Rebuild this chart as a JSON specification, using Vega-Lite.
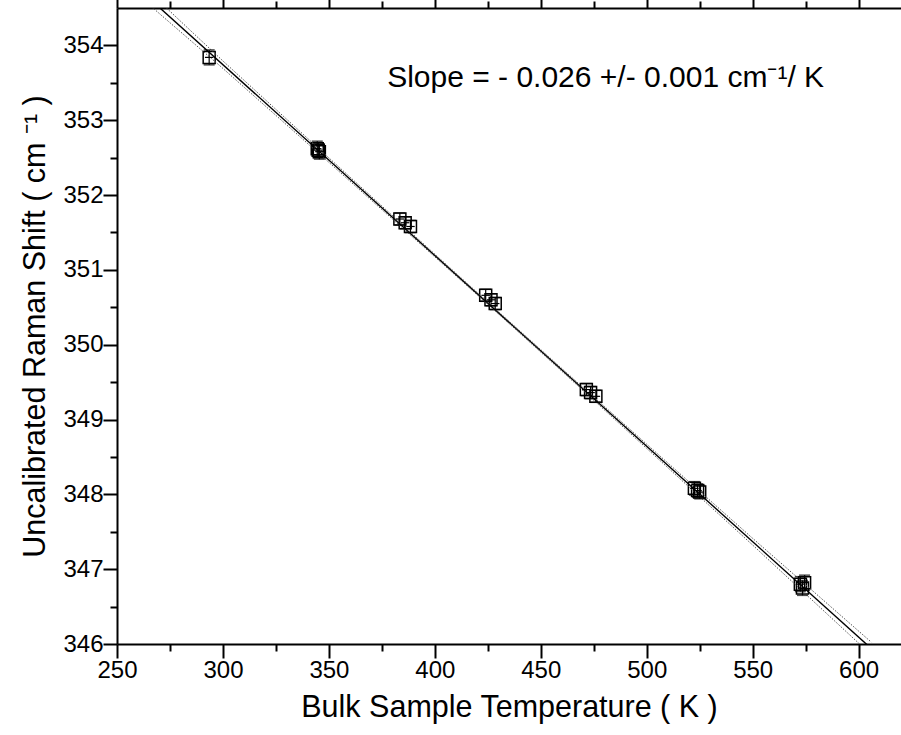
{
  "$schema": "https://vega.github.io/schema/vega-lite/v6.json",
  "autosize": {"type": "none"},
  "padding": {"left": 117, "top": 8, "right": 0, "bottom": 91},
  "width": 784,
  "height": 636,
  "background": "white",
  "config": {
    "view": {"stroke": null},
    "font": "Liberation Sans",
    "axis": {
      "domainColor": "black",
      "domainWidth": 2,
      "tickColor": "black",
      "tickWidth": 2,
      "grid": false,
      "labelColor": "black",
      "labelFont": "Liberation Sans",
      "labelFontSize": 24,
      "titleColor": "black",
      "titleFont": "Liberation Sans",
      "titleFontSize": 30.5,
      "titleFontWeight": "normal"
    }
  },
  "datasets": {
    "points": [
      {"T": 293.5, "S": 353.84, "Tlo": 291.5, "Thi": 295.5, "Slo": 353.74, "Shi": 353.94},
      {"T": 344.5, "S": 352.62, "Tlo": 342.5, "Thi": 346.5, "Slo": 352.52, "Shi": 352.72},
      {"T": 345.5, "S": 352.58, "Tlo": 343.5, "Thi": 347.5, "Slo": 352.48, "Shi": 352.68},
      {"T": 345.0, "S": 352.60, "Tlo": 343.0, "Thi": 347.0, "Slo": 352.50, "Shi": 352.70},
      {"T": 383.5, "S": 351.68, "Tlo": 381.5, "Thi": 385.5, "Slo": 351.60, "Shi": 351.76},
      {"T": 386.0, "S": 351.63, "Tlo": 384.0, "Thi": 388.0, "Slo": 351.55, "Shi": 351.71},
      {"T": 388.5, "S": 351.58, "Tlo": 386.5, "Thi": 390.5, "Slo": 351.50, "Shi": 351.66},
      {"T": 424.0, "S": 350.66, "Tlo": 422.0, "Thi": 426.0, "Slo": 350.58, "Shi": 350.74},
      {"T": 426.5, "S": 350.60, "Tlo": 424.5, "Thi": 428.5, "Slo": 350.52, "Shi": 350.68},
      {"T": 428.5, "S": 350.55, "Tlo": 426.5, "Thi": 430.5, "Slo": 350.47, "Shi": 350.63},
      {"T": 471.5, "S": 349.40, "Tlo": 469.5, "Thi": 473.5, "Slo": 349.32, "Shi": 349.48},
      {"T": 473.5, "S": 349.36, "Tlo": 471.5, "Thi": 475.5, "Slo": 349.28, "Shi": 349.44},
      {"T": 476.0, "S": 349.31, "Tlo": 474.0, "Thi": 478.0, "Slo": 349.23, "Shi": 349.39},
      {"T": 522.5, "S": 348.08, "Tlo": 520.5, "Thi": 524.5, "Slo": 347.99, "Shi": 348.17},
      {"T": 524.0, "S": 348.05, "Tlo": 522.0, "Thi": 526.0, "Slo": 347.96, "Shi": 348.14},
      {"T": 525.0, "S": 348.03, "Tlo": 523.0, "Thi": 527.0, "Slo": 347.94, "Shi": 348.12},
      {"T": 572.5, "S": 346.80, "Tlo": 570.5, "Thi": 574.5, "Slo": 346.70, "Shi": 346.90},
      {"T": 573.5, "S": 346.75, "Tlo": 571.5, "Thi": 575.5, "Slo": 346.65, "Shi": 346.85},
      {"T": 574.5, "S": 346.82, "Tlo": 572.5, "Thi": 576.5, "Slo": 346.72, "Shi": 346.92}
    ],
    "fit": [
      {"T": 262, "S": 354.711},
      {"T": 606, "S": 345.939}
    ],
    "band": [
      {"T": 262, "up": 354.801, "lo": 354.621},
      {"T": 300, "up": 353.792, "lo": 353.692},
      {"T": 350, "up": 352.497, "lo": 352.437},
      {"T": 400, "up": 351.210, "lo": 351.174},
      {"T": 430, "up": 350.442, "lo": 350.412},
      {"T": 460, "up": 349.680, "lo": 349.644},
      {"T": 500, "up": 348.670, "lo": 348.614},
      {"T": 550, "up": 347.412, "lo": 347.322},
      {"T": 606, "up": 346.024, "lo": 345.854}
    ],
    "note": [
      {"T": 377.5, "S": 353.56, "label": "Slope = - 0.026 +/- 0.001 cm⁻¹/ K"}
    ]
  },
  "resolve": {"axis": {"x": "independent", "y": "independent"}},
  "layer": [
    {
      "data": {"name": "points"},
      "mark": {"type": "point", "shape": "square", "filled": false, "stroke": "black", "strokeWidth": 1.5, "size": 144, "opacity": 1, "clip": true},
      "encoding": {
        "x": {
          "field": "T", "type": "quantitative",
          "scale": {"domain": [250, 620], "nice": false, "zero": false},
          "axis": {
            "orient": "bottom",
            "title": "Bulk Sample Temperature ( K )",
            "values": [250, 275, 300, 325, 350, 375, 400, 425, 450, 475, 500, 525, 550, 575, 600],
            "tickSize": {"condition": {"test": "datum.value % 50 === 0", "value": 14}, "value": 7},
            "labelExpr": "datum.value % 50 === 0 ? format(datum.value, 'd') : ''",
            "labelPadding": 0,
            "labelFlush": false,
            "labelOverlap": false,
            "titlePadding": 10
          }
        },
        "y": {
          "field": "S", "type": "quantitative",
          "scale": {"domain": [346, 354.5], "nice": false, "zero": false},
          "axis": {
            "orient": "left",
            "title": "Uncalibrated Raman Shift ( cm ⁻¹ )",
            "values": [346, 346.5, 347, 347.5, 348, 348.5, 349, 349.5, 350, 350.5, 351, 351.5, 352, 352.5, 353, 353.5, 354],
            "tickSize": {"condition": {"test": "datum.value % 1 === 0", "value": 14}, "value": 7},
            "labelExpr": "datum.value % 1 === 0 ? format(datum.value, 'd') : ''",
            "labelPadding": 0,
            "labelFlush": false,
            "labelOverlap": false,
            "titlePadding": 12
          }
        }
      }
    },
    {
      "data": {"name": "fit"},
      "mark": {"type": "line", "color": "black", "strokeWidth": 1.4, "clip": true},
      "encoding": {
        "x": {
          "field": "T", "type": "quantitative",
          "axis": {
            "orient": "top",
            "title": null,
            "values": [250, 275, 300, 325, 350, 375, 400, 425, 450, 475, 500, 525, 550, 575, 600],
            "tickSize": {"condition": {"test": "datum.value % 50 === 0", "value": 14}, "value": 7},
            "labels": false
          }
        },
        "y": {"field": "S", "type": "quantitative", "axis": null}
      }
    },
    {
      "data": {"name": "band"},
      "mark": {"type": "line", "color": "#555555", "strokeWidth": 1, "strokeDash": [1.5, 1.5], "clip": true},
      "encoding": {
        "x": {"field": "T", "type": "quantitative", "axis": null},
        "y": {
          "field": "up", "type": "quantitative",
          "axis": {
            "orient": "right",
            "title": null,
            "offset": 8,
            "values": [346, 346.5, 347, 347.5, 348, 348.5, 349, 349.5, 350, 350.5, 351, 351.5, 352, 352.5, 353, 353.5, 354],
            "tickSize": {"condition": {"test": "datum.value % 1 === 0", "value": 14}, "value": 7},
            "labels": false
          }
        }
      }
    },
    {
      "data": {"name": "band"},
      "mark": {"type": "line", "color": "#555555", "strokeWidth": 1, "strokeDash": [1.5, 1.5], "clip": true},
      "encoding": {
        "x": {"field": "T", "type": "quantitative", "axis": null},
        "y": {"field": "lo", "type": "quantitative", "axis": null}
      }
    },
    {
      "data": {"name": "points"},
      "mark": {"type": "rule", "color": "black", "strokeWidth": 1.2},
      "encoding": {
        "x": {"field": "T", "type": "quantitative", "axis": null},
        "y": {"field": "Slo", "type": "quantitative", "axis": null},
        "y2": {"field": "Shi"}
      }
    },
    {
      "data": {"name": "points"},
      "mark": {"type": "rule", "color": "black", "strokeWidth": 1.2},
      "encoding": {
        "x": {"field": "Tlo", "type": "quantitative", "axis": null},
        "x2": {"field": "Thi"},
        "y": {"field": "S", "type": "quantitative", "axis": null}
      }
    },
    {
      "data": {"name": "points"},
      "mark": {"type": "tick", "orient": "horizontal", "color": "black", "size": 11, "thickness": 1.5},
      "encoding": {
        "x": {"field": "T", "type": "quantitative", "axis": null},
        "y": {"field": "Shi", "type": "quantitative", "axis": null}
      }
    },
    {
      "data": {"name": "points"},
      "mark": {"type": "tick", "orient": "horizontal", "color": "black", "size": 11, "thickness": 1.5},
      "encoding": {
        "x": {"field": "T", "type": "quantitative", "axis": null},
        "y": {"field": "Slo", "type": "quantitative", "axis": null}
      }
    },
    {
      "data": {"name": "note"},
      "mark": {"type": "text", "align": "left", "baseline": "middle", "font": "Liberation Sans", "fontSize": 30, "color": "black"},
      "encoding": {
        "x": {"field": "T", "type": "quantitative", "axis": null},
        "y": {"field": "S", "type": "quantitative", "axis": null},
        "text": {"field": "label"}
      }
    }
  ]
}
